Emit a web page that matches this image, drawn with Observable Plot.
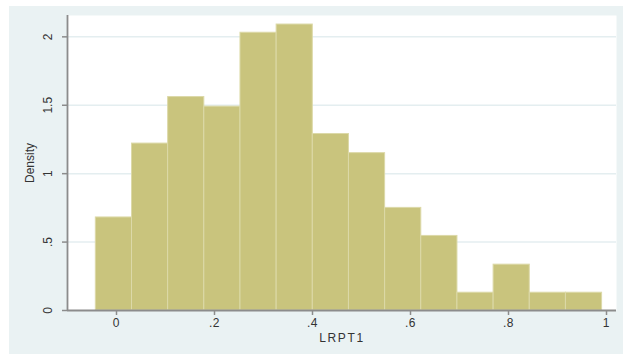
<!DOCTYPE html>
<html>
<head>
<meta charset="utf-8">
<script src="https://cdn.jsdelivr.net/npm/d3@7"></script>
<script src="https://cdn.jsdelivr.net/npm/@observablehq/plot@0.6"></script>
<style>
  html, body { margin: 0; padding: 0; background: #ffffff; }
  #chart svg { display: block; margin-left: 9px; margin-top: 6px; }
  #chart svg g[aria-label="x-axis label"] text { letter-spacing: 1.6px; }
  #chart svg g[aria-label="x-axis tick label"] text { letter-spacing: 0.6px; }
</style>
</head>
<body>
<div id="chart"></div>
<script>
// Histogram of LRPT1: 14 equal-width bins starting at the sample minimum
const binStart = -0.0422;
const binWidth = 0.0738;
const densities = [0.68, 1.22, 1.56, 1.49, 2.03, 2.09, 1.29, 1.15, 0.75, 0.545, 0.13, 0.335, 0.13, 0.13];

const xTicks = [0, 0.2, 0.4, 0.6, 0.8, 1];
const yTicks = [0, 0.5, 1, 1.5, 2];
const xDomain = [-0.1, 1.0204];
const yDomain = [0, 2.156];

const bins = densities.map((d, i) => ({
  x1: binStart + i * binWidth,
  x2: binStart + (i + 1) * binWidth,
  density: d
}));

// Stata-style numbers: drop the leading zero (".5", ".2")
const fmt = d => String(d).replace(/^0\./, ".");

const axisColor = "#8c8c8c";

const chart = Plot.plot({
  width: 614,
  height: 348,
  marginLeft: 58,
  marginRight: 7,
  marginTop: 9,
  marginBottom: 44,
  style: {
    background: "#eaf2f3",
    fontFamily: "'Liberation Sans', Arial, sans-serif",
    fontSize: "12px",
    color: "#333333"
  },
  x: { domain: xDomain },
  y: { domain: yDomain },
  marks: [
    Plot.frame({ fill: "#ffffff", stroke: null }),
    Plot.gridY(yTicks.slice(1), { stroke: "#e4eef0", strokeOpacity: 1, strokeWidth: 1.5 }),
    Plot.rectY(bins, {
      x1: "x1", x2: "x2", y: "density",
      fill: "#c9c47d", stroke: "#dcd9a8", strokeWidth: 1
    }),
    Plot.ruleX([xDomain[0]], { stroke: axisColor, strokeWidth: 1.8 }),
    Plot.ruleY([0], { stroke: axisColor, strokeWidth: 1.8 }),
    Plot.axisX({
      ticks: xTicks, tickFormat: fmt, tickSize: 5, tickPadding: 3,
      stroke: axisColor, strokeWidth: 1.5,
      label: "LRPT1", labelAnchor: "center", labelArrow: "none", labelOffset: 31,
      fontSize: 12
    }),
    Plot.axisY({
      ticks: yTicks, tickFormat: fmt, tickSize: 5, tickPadding: 11, tickRotate: -90,
      stroke: axisColor, strokeWidth: 1.5,
      label: "Density", labelAnchor: "center", labelArrow: "none", labelOffset: 42,
      fontSize: 12
    })
  ]
});

document.getElementById("chart").append(chart);
</script>
</body>
</html>
